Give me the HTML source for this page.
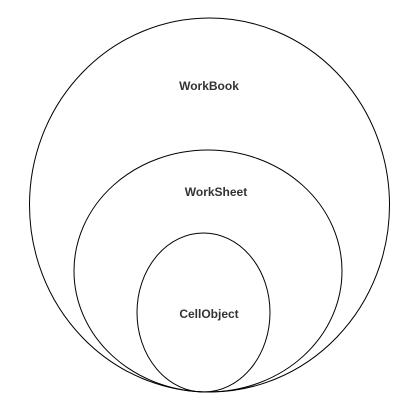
<!DOCTYPE html>
<html><head><style>body{margin:0;background:#fff}svg{display:block}</style></head><body>
<svg width="417" height="417" viewBox="0 0 417 417" xmlns="http://www.w3.org/2000/svg">
<rect width="417" height="417" fill="#fff"/>
<g fill="none" stroke="#000" stroke-width="1">
<ellipse cx="209.5" cy="205" rx="180" ry="187"/>
<ellipse cx="208" cy="271" rx="134" ry="121"/>
<ellipse cx="203.5" cy="312.5" rx="66.5" ry="79.5"/>
</g>
<g font-family="Liberation Sans, sans-serif" font-size="12" font-weight="bold" fill="#333" text-anchor="middle">
<text x="209" y="90">WorkBook</text>
<text x="216" y="196">WorkSheet</text>
<text x="209" y="318">CellObject</text>
</g>
</svg>
</body></html>
